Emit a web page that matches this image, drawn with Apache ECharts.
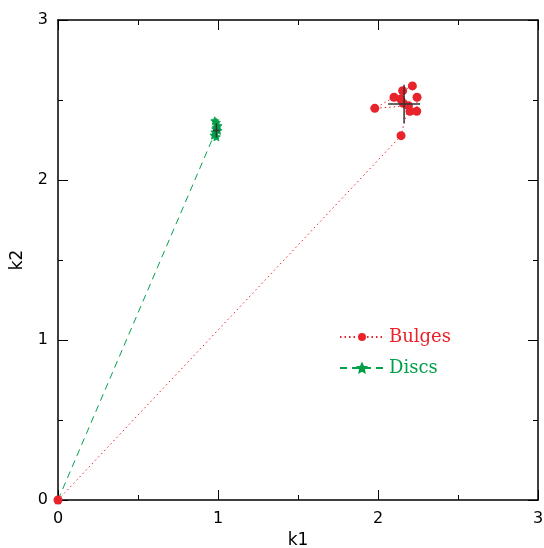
<!DOCTYPE html>
<html>
<head>
<meta charset="utf-8">
<script src="https://cdn.jsdelivr.net/npm/echarts@6/dist/echarts.min.js"></script>
<style>
  html, body { margin: 0; padding: 0; background: #fff; }
  #chart { width: 544px; height: 548px; }
</style>
</head>
<body>
<div id="chart"></div>
<script>
// Bulge and disc positions in the (k1, k2) plane, joined from the origin
const bulgesK1 = [0, 2.144, 2.19, 1.98, 2.10, 2.142, 2.154, 2.215, 2.244, 2.242, 2.20, 2.158];
const bulgesK2 = [0, 2.277, 2.464, 2.448, 2.517, 2.506, 2.558, 2.588, 2.517, 2.43, 2.43, 2.479];
const discsK1 = [0, 0.975, 0.99, 0.98, 1.0, 0.985, 0.99, 1.0, 0.99, 0.98];
const discsK2 = [0, 2.28, 2.27, 2.30, 2.31, 2.32, 2.33, 2.34, 2.36, 2.37];

// Mean position and spread of each group
const bulgeMean = [2.163, 2.475];
const bulgeErr = [0.10, 0.12];
const discMean = [0.99, 2.31];
const discErr = [0.02, 0.045];

const axisTicks = [0, 1, 2, 3];

const RED = '#e8232b';
const GREEN = '#03a04a';
const pairs = (xs, ys) => xs.map((x, i) => [x, ys[i]]);

function crossSeries(mean, err) {
  const seg = (pts) => ({
    type: 'line', data: pts, symbol: 'none', silent: true, z: 4,
    lineStyle: { color: '#333', width: 1.5 }
  });
  return [
    seg([[mean[0] - err[0], mean[1]], [mean[0] + err[0], mean[1]]]),
    seg([[mean[0], mean[1] - err[1]], [mean[0], mean[1] + err[1]]])
  ];
}

const axisBase = {
  type: 'value', min: axisTicks[0], max: axisTicks[axisTicks.length - 1], interval: 1,
  axisLine: { show: true, onZero: false, lineStyle: { color: '#000', width: 1.5 } },
  axisTick: { show: true, inside: true, length: 10, lineStyle: { color: '#000', width: 1 } },
  minorTick: { show: true, splitNumber: 2, length: 5, lineStyle: { color: '#000', width: 1 } },
  splitLine: { show: false },
  nameTextStyle: { fontFamily: 'DejaVu Sans', fontSize: 17, color: '#000' },
  axisLabel: { fontFamily: 'DejaVu Sans', fontSize: 16, color: '#000' }
};

const chart = echarts.init(document.getElementById('chart'));
chart.setOption({
  animation: false,
  backgroundColor: '#fff',
  grid: { left: 58, right: 6, top: 20, bottom: 48, containLabel: false, outerBoundsMode: 'none' },
  xAxis: [
    Object.assign({}, axisBase, {
      position: 'bottom', name: 'k1', nameLocation: 'middle', nameGap: 31,
      axisLabel: Object.assign({}, axisBase.axisLabel, { margin: 11 })
    }),
    Object.assign({}, axisBase, { position: 'top', axisLabel: { show: false } })
  ],
  yAxis: [
    Object.assign({}, axisBase, {
      position: 'left', name: 'k2', nameLocation: 'middle', nameGap: 32,
      axisLabel: Object.assign({}, axisBase.axisLabel, { margin: 10 })
    }),
    Object.assign({}, axisBase, { position: 'right', axisLabel: { show: false } })
  ],
  legend: {
    orient: 'vertical', left: 334, top: 323, itemGap: 13,
    itemWidth: 44, itemHeight: 10,
    textStyle: { fontFamily: 'DejaVu Serif', fontSize: 18 },
    data: [
      { name: 'Bulges', textStyle: { color: RED } },
      { name: 'Discs', textStyle: { color: GREEN } }
    ]
  },
  series: [
    {
      name: 'Discs', type: 'line', data: pairs(discsK1, discsK2), z: 3,
      symbol: 'path://M0,-10 L2.9,-4 L9.5,-3.1 L4.7,1.5 L5.9,8.1 L0,5 L-5.9,8.1 L-4.7,1.5 L-9.5,-3.1 L-2.9,-4 Z',
      symbolSize: 8,
      itemStyle: { color: GREEN, borderColor: GREEN, borderWidth: 0.8 },
      lineStyle: { color: GREEN, width: 1, type: [7, 5] }
    },
    {
      name: 'Bulges', type: 'line', data: pairs(bulgesK1, bulgesK2), z: 3,
      symbol: 'circle', symbolSize: 9,
      itemStyle: { color: RED },
      lineStyle: { color: RED, width: 1, type: [1.5, 3] }
    },
    ...crossSeries(bulgeMean, bulgeErr),
    ...crossSeries(discMean, discErr)
  ]
});
</script>
</body>
</html>
